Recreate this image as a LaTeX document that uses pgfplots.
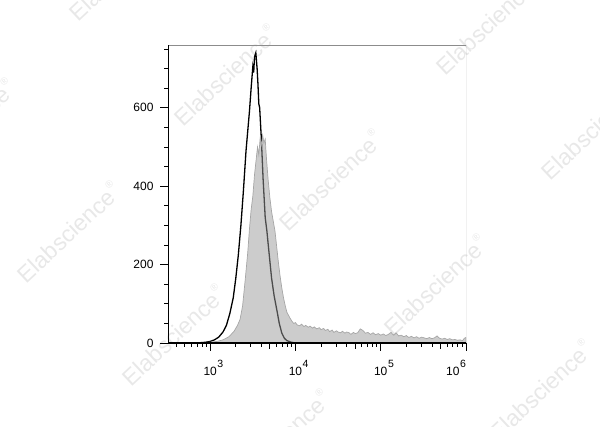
\documentclass[border=0pt]{standalone}
\usepackage{pgfplots}
\pgfplotsset{compat=1.18}
\usepackage{fontspec}
\setmainfont{Liberation Sans}
\newcommand\tp[1]{10\rlap{\kern0.6pt\raisebox{7.5pt}{\fontsize{10.5}{11}\selectfont #1}}}
\newcommand\tpl[1]{\makebox[0pt][r]{10\kern0.6pt\raisebox{7.5pt}{\fontsize{10.5}{11}\selectfont #1}}}
\begin{document}
\begin{tikzpicture}
\useasboundingbox (0,0) rectangle (600pt,427pt);
\begin{scope}
\clip (0,0) rectangle (600pt,427pt);
\foreach \x/\y in {330/247,435/142,173/92,68/195,225/352,487/403,592/298,-37/298,120/457,278/-13,540/37}
  \node[rotate=43,text=black!9,font=\fontsize{23}{24}\selectfont] at (\x pt,\y pt) {Elabscience\kern0.5pt\raisebox{0.55em}{\fontsize{10}{10}\selectfont ®}};
\end{scope}
\begin{axis}[at={(168pt,84pt)}, anchor=south west, scale only axis,
  width=298pt, height=298pt,
  xmin=2.505, xmax=6, ymin=0, ymax=760,
  axis x line*=bottom, axis y line*=left, axis line style={-},
  x axis line style={line width=1.2pt}, y axis line style={line width=1pt},
  axis on top,
  tick align=outside,
  major tick length=8pt, minor tick length=4pt,
  tick style={black, line width=0.8pt},
  xtick={3,4,5,6}, xticklabels={{\tp{3}},{\tp{4}},{\tp{5}},{\tpl{6}}},
  minor xtick={2.602,2.699,2.778,2.845,2.903,2.954,3.301,3.477,3.602,3.699,3.778,3.845,3.903,3.954,4.301,4.477,4.602,4.699,4.778,4.845,4.903,4.954,5.301,5.477,5.602,5.699,5.778,5.845,5.903,5.954},
  extra x ticks={3.699,4.699,5.699}, extra x tick labels={}, extra x tick style={major tick length=6pt},
  ytick={0,200,400,600}, yticklabels={0,200,400,600},
  minor ytick={50,100,...,750},
  ticklabel style={font=\fontsize{12}{14}\selectfont},
  yticklabel style={xshift=-3pt}, xticklabel style={yshift=-6pt},
]
\addplot[black, line width=1.3pt] coordinates {
(2.52,0) (2.80,0) (2.90,1) (2.95,2) (3.00,4) (3.05,8) (3.10,15) (3.15,28) (3.19,45) (3.23,75)
(3.27,115) (3.30,165) (3.33,225) (3.36,300) (3.39,390) (3.42,490) (3.44,540) (3.46,590)
(3.48,650) (3.50,705) (3.51,690) (3.52,730) (3.535,740) (3.55,700) (3.56,660) (3.57,610)
(3.58,600) (3.60,520) (3.62,420) (3.645,320) (3.665,285) (3.69,230) (3.72,165) (3.75,120)
(3.785,80) (3.81,50) (3.84,25) (3.87,12) (3.90,6) (3.95,2) (4.00,0) (6.0,0)
};
\addplot[draw=black!35, line width=0.7pt, fill=black!40, fill opacity=0.5] coordinates {
(2.52,0) (2.90,0) (3.00,2) (3.08,4) (3.15,8) (3.22,16) (3.28,30) (3.32,45) (3.35,60) (3.38,95)
(3.41,160) (3.44,230) (3.46,290) (3.48,340) (3.50,375) (3.52,430) (3.54,470) (3.555,500)
(3.57,480) (3.585,520) (3.60,505) (3.615,530) (3.63,510) (3.645,520) (3.66,470) (3.68,415)
(3.70,370) (3.72,335) (3.74,310) (3.76,285) (3.78,245) (3.80,205) (3.82,170) (3.84,140)
(3.86,115) (3.88,95) (3.90,78) (3.92,70) (3.94,62) (3.96,55) (3.98,50) (4.00,52)
(4.02,46) (4.05,44) (4.07,48) (4.10,42) (4.12,45) (4.15,40) (4.17,43) (4.20,38) (4.22,41)
(4.25,36) (4.28,39) (4.30,34) (4.33,37) (4.35,32) (4.38,35) (4.40,29) (4.43,33) (4.45,27)
(4.48,31) (4.50,28) (4.53,26) (4.55,30) (4.58,25) (4.60,28) (4.63,26) (4.65,22) (4.68,27)
(4.70,24) (4.73,26) (4.76,36) (4.79,32) (4.82,25) (4.85,27) (4.88,22) (4.91,26) (4.94,21)
(4.97,24) (5.00,20) (5.03,23) (5.06,19) (5.09,22) (5.12,27) (5.15,20) (5.18,26) (5.21,18)
(5.24,20) (5.27,16) (5.30,19) (5.33,14) (5.36,17) (5.39,13) (5.42,16) (5.45,12) (5.48,15)
(5.51,13) (5.54,11) (5.57,14) (5.60,11) (5.63,13) (5.66,18) (5.69,12) (5.72,10) (5.75,12)
(5.78,9) (5.81,11) (5.84,8) (5.87,9) (5.90,7) (5.93,8) (5.96,6) (5.98,12) (6.00,14)
} \closedcycle;
\draw[black!45, line width=0.8pt] (rel axis cs:0,1) -- (rel axis cs:1,1) -- (rel axis cs:1,0);
\end{axis}
\end{tikzpicture}
\end{document}
